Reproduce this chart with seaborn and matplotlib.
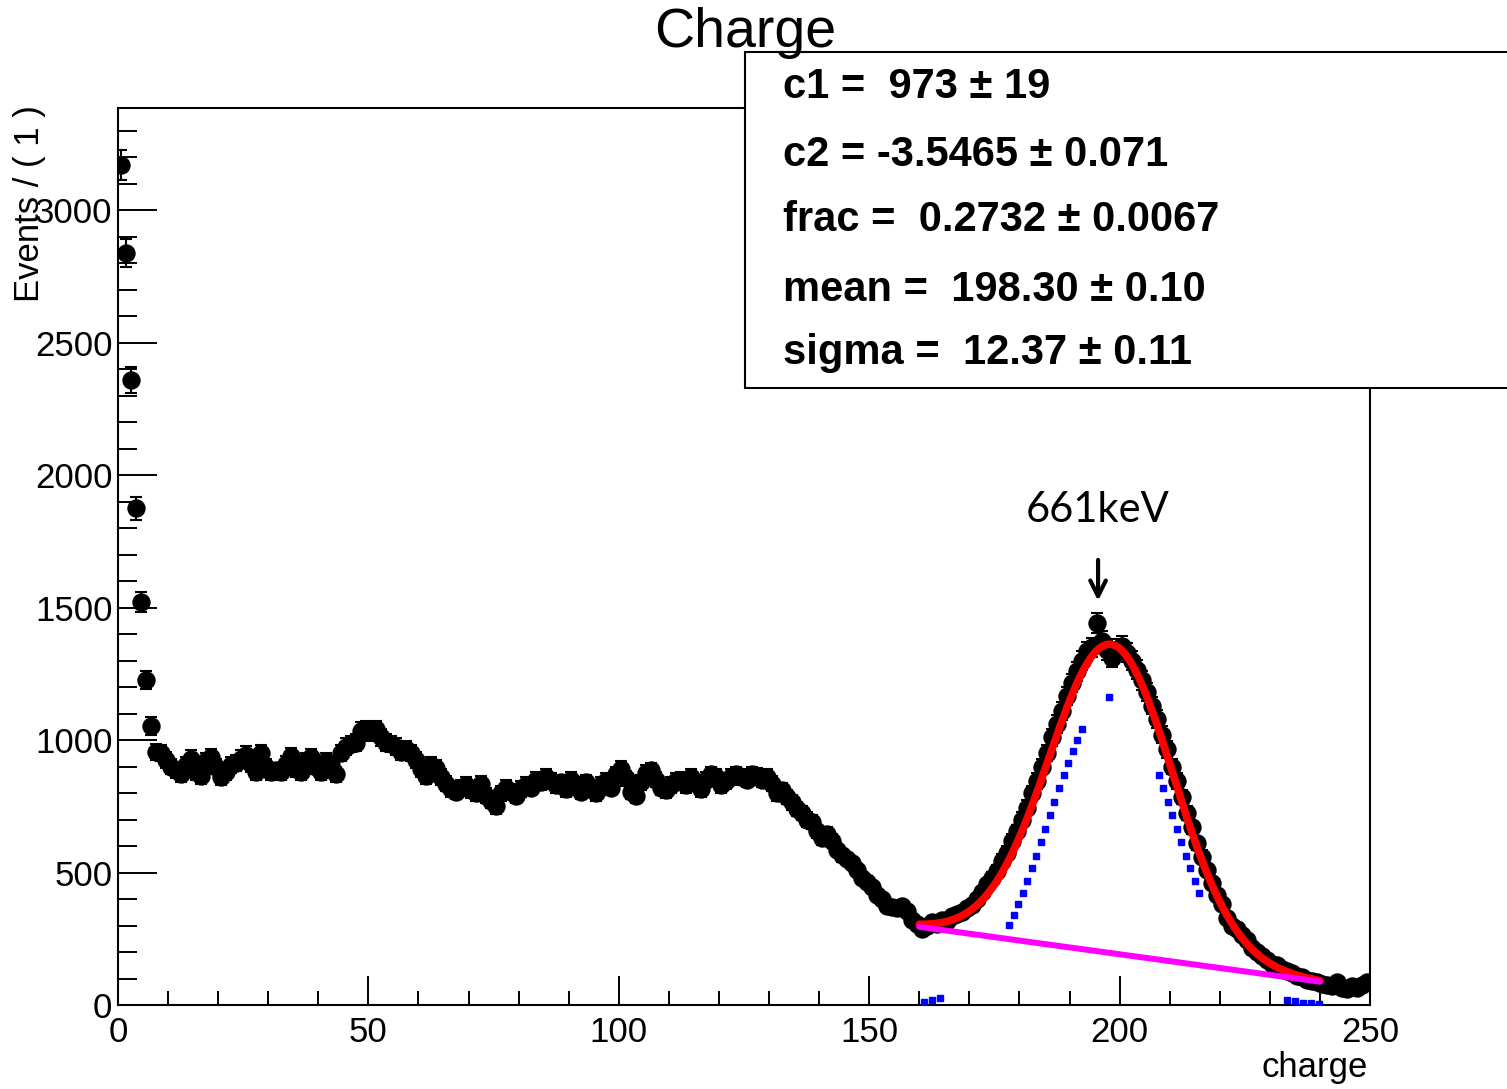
import numpy as np
import matplotlib
matplotlib.use('Agg')
import matplotlib.pyplot as plt
import seaborn as sns
from matplotlib.patches import Rectangle
from matplotlib.ticker import MultipleLocator

#counts per 1-unit bin of charge (bins 0..249)
counts = [
    3170, 2838, 2358, 1875, 1521, 1226, 1053, 955, 950, 925,
    900, 885, 870, 905, 930, 880, 865, 920, 935, 900,
    860, 880, 905, 915, 930, 945, 910, 880, 950, 900,
    880, 885, 880, 910, 940, 890, 880, 920, 935, 900,
    880, 920, 905, 870, 950, 975, 985, 990, 1035, 1040,
    1030, 1040, 1010, 990, 985, 975, 955, 965, 950, 925,
    890, 865, 905, 895, 860, 835, 815, 805, 820, 830,
    810, 800, 835, 790, 770, 750, 800, 820, 805, 790,
    815, 830, 820, 850, 840, 860, 845, 830, 840, 815,
    850, 830, 805, 840, 820, 800, 830, 845, 820, 870,
    890, 855, 805, 790, 840, 875, 885, 850, 820, 810,
    830, 845, 850, 830, 860, 840, 815, 850, 870, 860,
    830, 845, 860, 870, 860, 850, 870, 865, 850, 860,
    835, 800, 810, 785, 765, 740, 725, 700, 690, 655,
    630, 645, 620, 585, 565, 550, 535, 510, 480, 465,
    445, 415, 400, 375, 370, 365, 372, 355, 320, 305,
    288, 300, 312, 305, 322, 318, 335, 345, 352, 365,
    378, 400, 425, 455, 480, 505, 545, 575, 620, 655,
    700, 745, 800, 845, 900, 950, 1010, 1060, 1110, 1165,
    1215, 1260, 1300, 1335, 1350, 1441, 1375, 1340, 1310, 1345,
    1355, 1330, 1300, 1265, 1225, 1180, 1130, 1080, 1020, 965,
    900, 845, 785, 725, 670, 610, 560, 510, 460, 415,
    380, 330, 300, 285, 265, 245, 215, 200, 185, 170,
    155, 150, 135, 130, 120, 110, 105, 95, 90, 85,
    80, 75, 70, 85, 65, 60, 70, 65, 75, 85,
]
bin_centers = np.arange(len(counts)) + 0.5

#fit results shown in the stats box, plus what I read for amplitude / background
fit_mean = 198.30
fit_sigma = 12.37
peak_amp = 1165
bkg_start, bkg_end = 295, 88
fit_lo, fit_hi = 160, 240
blue_ranges = [(161, 165.5), (178, 192.5), (197.8, 198.9), (207.8, 216), (233.5, 240)]

stats_lines = [
    'c1 =  973 \u00b1 19',
    'c2 = -3.5465 \u00b1 0.071',
    'frac =  0.2732 \u00b1 0.0067',
    'mean =  198.30 \u00b1 0.10',
    'sigma =  12.37 \u00b1 0.11',
]
stats_y_px = [87, 155, 220, 290, 353]

sns.set_theme(style='white')
plt.rcParams['font.family'] = ['Liberation Sans', 'DejaVu Sans']
plt.rcParams['text.color'] = 'black'

W, H = 1507, 1089
fig = plt.figure(figsize=(W / 100, H / 100), dpi=100)
ax = fig.add_axes([118 / W, 1 - 1005 / H, (1370 - 118) / W, (1005 - 108) / H])


def gauss(x):
    return peak_amp * np.exp(-0.5 * ((x - fit_mean) / fit_sigma) ** 2)


def bkg(x):
    return bkg_start + (bkg_end - bkg_start) * (x - fit_lo) / (fit_hi - fit_lo)


#data points with poisson errors
ax.errorbar(bin_centers, counts, yerr=np.sqrt(counts), fmt='none',
            ecolor='black', elinewidth=1.5, capsize=4, capthick=1.5, zorder=2)
sns.scatterplot(x=bin_centers, y=counts, ax=ax, color='black', s=175,
                linewidth=0, zorder=3)

#fit curves
xs = np.linspace(fit_lo, fit_hi, 300)
sns.lineplot(x=xs, y=bkg(xs) + gauss(xs), ax=ax, color='red', lw=5.5,
             estimator=None, zorder=4)
sns.lineplot(x=xs, y=bkg(xs), ax=ax, color='magenta', lw=4.3,
             estimator=None, zorder=5)
for a, b in blue_ranges:
    step = 0.9 if b - a > 2 and gauss(a) > 100 else 1.6
    xb = np.arange(a, b, step)
    ax.plot(xb, gauss(xb), 's', color='blue', ms=4, zorder=6)

ax.set_xlim(0, 250)
ax.set_ylim(0, 3385)
ax.set_xlabel('')
ax.set_ylabel('')
ax.set_xticks(np.arange(0, 251, 50))
ax.set_yticks(np.arange(0, 3001, 500))
ax.xaxis.set_minor_locator(MultipleLocator(10))
ax.yaxis.set_minor_locator(MultipleLocator(100))
ax.tick_params(axis='both', which='both', direction='in', color='black',
               width=1.4, bottom=True, left=True, top=False, right=False,
               labelsize=25, labelcolor='black')
ax.tick_params(axis='y', which='major', length=28, pad=4)
ax.tick_params(axis='y', which='minor', length=14)
ax.tick_params(axis='x', which='major', length=21, pad=8)
ax.tick_params(axis='x', which='minor', length=10)
for s in ax.spines.values():
    s.set_color('black')
    s.set_linewidth(1.5)

#661keV marker
ax.text(195.7, 1868, '661keV', ha='center', va='center', fontsize=30,
        color='black', family=['Lato', 'DejaVu Sans'])
ax.annotate('', xy=(195.7, 1515), xytext=(195.7, 1690),
            arrowprops=dict(arrowstyle='->', lw=3, color='black', mutation_scale=28))

#stats box
box = Rectangle((745 / W, 1 - 388 / H), 0.55, (388 - 52) / H,
                transform=fig.transFigure, facecolor='white', edgecolor='black',
                lw=1.5, zorder=10)
fig.add_artist(box)
for line, ypx in zip(stats_lines, stats_y_px):
    fig.text(783 / W, 1 - ypx / H, line, ha='left', va='center', fontsize=30,
             fontweight='bold', color='black', zorder=11,
             family=['Liberation Sans Narrow', 'Liberation Sans', 'DejaVu Sans'])

fig.text(745 / W, 1 - 33 / H, 'Charge', ha='center', va='center', fontsize=40,
         color='black', zorder=12)
fig.text(30 / W, 1 - 105 / H, 'Events / ( 1 )', rotation=90, ha='center', va='top',
         fontsize=25, color='black')
fig.text(1368 / W, 1 - 1068 / H, 'charge', ha='right', va='center', fontsize=25,
         color='black')

fig.savefig('out.png', dpi=100)
